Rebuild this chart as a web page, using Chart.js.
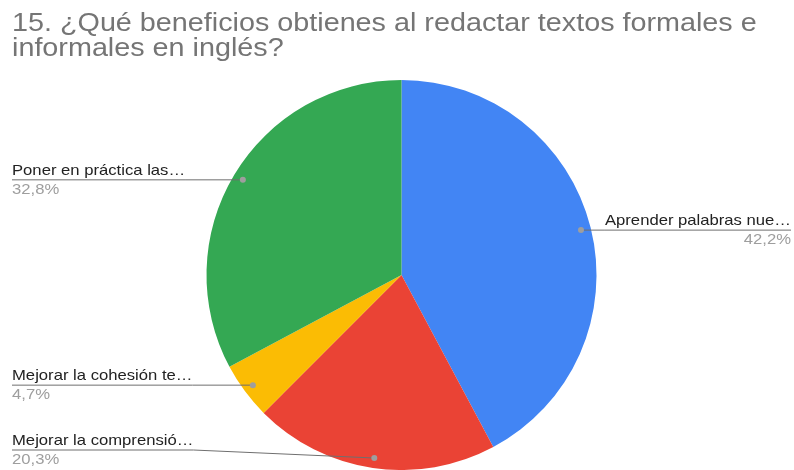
<!DOCTYPE html>
<html>
<head>
<meta charset="utf-8">
<script src="https://cdn.jsdelivr.net/npm/chart.js@4"></script>
<style>
  body { margin: 0; background: #fff; }
  canvas { display: block; }
</style>
</head>
<body>
<canvas id="pieChart" width="794" height="470"></canvas>
<script>
// Data
const categories = [
    'Aprender palabras nue…',
    'Mejorar la comprensió…',
    'Mejorar la cohesión te…',
    'Poner en práctica las…'
];
const percentages = [42.2, 20.3, 4.7, 32.8];
const sliceColors = ['#4285F4', '#EA4335', '#FBBC04', '#34A853'];
const titleLines = [
    '15. ¿Qué beneficios obtienes al redactar textos formales e',
    'informales en inglés?'
];

const FONT = '"Liberation Sans", Arial, sans-serif';
// reference text looks a bit stretched horizontally
const TITLE_SX = 1.15;
const LABEL_SX = 1.11;

// draw text with a horizontal stretch, anchored at x
function stretchedText(ctx, text, x, y, sx, align) {
    ctx.save();
    ctx.translate(x, y);
    ctx.scale(sx, 1);
    ctx.textAlign = align;
    ctx.fillText(text, 0, 0);
    ctx.restore();
}

// Title drawn on top without taking layout space
const titlePlugin = {
    id: 'titleText',
    afterDraw(chart) {
        const ctx = chart.ctx;
        ctx.save();
        ctx.fillStyle = '#757575';
        ctx.font = '25px ' + FONT;
        ctx.textBaseline = 'alphabetic';
        titleLines.forEach((line, i) => {
            stretchedText(ctx, line, 12, 31 + i * 25, TITLE_SX, 'left');
        });
        ctx.restore();
    }
};

// Labels with leader lines, google sheets style
const leaderLabels = {
    id: 'leaderLabels',
    afterDatasetsDraw(chart) {
        const ctx = chart.ctx;
        const meta = chart.getDatasetMeta(0);
        const W = chart.width, H = chart.height;
        ctx.save();
        meta.data.forEach((arc, i) => {
            const p = arc.getProps(['x', 'y', 'startAngle', 'endAngle', 'outerRadius'], true);
            const mid = (p.startAngle + p.endAngle) / 2;
            const r = p.outerRadius - 10;
            const dx = p.x + Math.cos(mid) * r;
            const dy = p.y + Math.sin(mid) * r;
            const right = dx > p.x;
            const lineY = Math.min(dy, H - 20);

            ctx.font = '15px ' + FONT;
            const tw = ctx.measureText(categories[i]).width * LABEL_SX;
            const edge = right ? W - 3 : 12;
            const inner = right ? edge - tw : edge + tw;

            // leader line
            ctx.strokeStyle = '#6f6f6f';
            ctx.lineWidth = 1;
            ctx.beginPath();
            ctx.moveTo(edge, lineY);
            ctx.lineTo(inner, lineY);
            ctx.lineTo(dx, dy);
            ctx.stroke();

            ctx.fillStyle = '#9e9e9e';
            ctx.beginPath();
            ctx.arc(dx, dy, 3, 0, Math.PI * 2);
            ctx.fill();

            // texts
            const align = right ? 'right' : 'left';
            ctx.textBaseline = 'alphabetic';
            ctx.fillStyle = '#222';
            stretchedText(ctx, categories[i], edge, lineY - 5, LABEL_SX, align);
            ctx.fillStyle = '#9e9e9e';
            stretchedText(ctx, percentages[i].toFixed(1).replace('.', ',') + '%', edge, lineY + 14, LABEL_SX, align);
        });
        ctx.restore();
    }
};

new Chart(document.getElementById('pieChart').getContext('2d'), {
    type: 'pie',
    data: {
        labels: categories,
        datasets: [{
            data: percentages,
            backgroundColor: sliceColors,
            borderWidth: 0
        }]
    },
    options: {
        responsive: false,
        animation: false,
        layout: {
            padding: { top: 80, bottom: 0, left: 9, right: 0 }
        },
        plugins: {
            legend: { display: false },
            tooltip: { enabled: false }
        }
    },
    plugins: [titlePlugin, leaderLabels]
});
</script>
</body>
</html>
